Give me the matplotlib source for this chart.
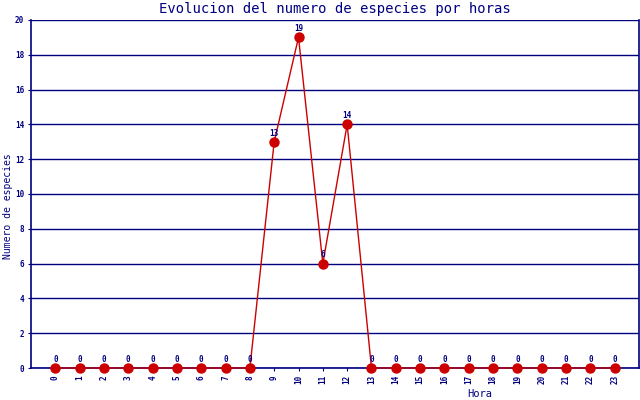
"""
Evolucion del numero de especies por horas - line chart
"""
import matplotlib
matplotlib.use('Agg')
import matplotlib.pyplot as plt

horas = list(range(24))
especies = [0, 0, 0, 0, 0, 0, 0, 0, 0, 13, 19, 6, 14,
            0, 0, 0, 0, 0, 0, 0, 0, 0, 0, 0]
y_ticks = list(range(0, 21, 2))

navy = '#000080'
red = '#cc0000'
plt.rcParams['font.family'] = 'DejaVu Sans Mono'

fig = plt.figure(figsize=[6.4, 4.0], dpi=100)
ax = fig.add_axes([31 / 640, 32 / 400, 608 / 640, 348 / 400])

ax.set_xlim(-1, 24)
ax.set_ylim(0, 20)

# horizontal grid
for y in y_ticks:
    ax.axhline(y, color=navy, lw=1, zorder=1)

ax.plot(horas, especies, color=red, lw=1, marker='o', markersize=6.5,
        markerfacecolor=red, markeredgecolor=red, zorder=3, clip_on=False)

for h, v in zip(horas, especies):
    ax.annotate(str(v), (h, v), xytext=(0, 3), textcoords='offset points',
                ha='center', va='bottom', fontsize=5.5, color=navy,
                fontweight='bold')

ax.spines['top'].set_visible(False)
for side in ['left', 'bottom', 'right']:
    ax.spines[side].set_color(navy)
    ax.spines[side].set_linewidth(1.2)

ax.set_xticks(horas)
ax.set_xticklabels([str(h) for h in horas], rotation=90, fontsize=5.5,
                   color=navy, fontweight='bold')
ax.set_yticks(y_ticks)
ax.set_yticklabels([str(y) for y in y_ticks], fontsize=5.5, color=navy,
                   fontweight='bold')
ax.tick_params(axis='both', colors=navy, length=2, width=0.8, pad=3)

fig.text(335 / 640, 391 / 400, 'Evolucion del numero de especies por horas',
         ha='center', va='center', fontsize=10, color=navy)
fig.text(8 / 640, 194 / 400, 'Numero de especies', rotation=90,
         ha='center', va='center', fontsize=7, color=navy)
fig.text(480 / 640, 6 / 400, 'Hora', ha='center', va='center',
         fontsize=7.5, color=navy)

plt.savefig('out.png', dpi=100)
